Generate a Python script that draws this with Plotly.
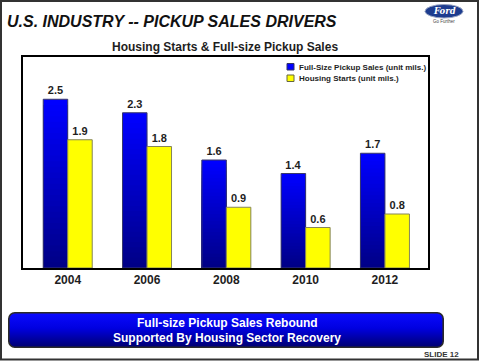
import base64
import plotly.graph_objects as go

# ---- data ----
years = ["2004", "2006", "2008", "2010", "2012"]
pickup_sales = [2.5, 2.3, 1.6, 1.4, 1.7]
housing_starts = [1.9, 1.8, 0.9, 0.6, 0.8]
name_pickup = "Full-Size Pickup Sales (unit mils.)"
name_housing = "Housing Starts (unit mils.)"

W, H = 480, 361
FONT = "Liberation Sans, Arial, sans-serif"
TXT = "#1e1e1e"


def px(x):
    return x / W


def py(y):
    return 1 - y / H


fig = go.Figure()

# blue bars with vertical gradient (bright top -> dark bottom) via overlaid bars
N = 30
top = (0, 0, 255)
bot = (0, 0, 135)
for k in range(N):
    t = k / (N - 1)
    c = tuple(round(top[i] + (bot[i] - top[i]) * t) for i in range(3))
    col = "rgb(%d,%d,%d)" % c
    fig.add_trace(go.Bar(
        x=years, y=[v * (1 - k / N) for v in pickup_sales],
        offsetgroup="a", marker=dict(color=col, line=dict(width=0)),
        showlegend=False, hoverinfo="skip"))
# outline + labels for blue bars
fig.add_trace(go.Bar(
    x=years, y=pickup_sales, offsetgroup="a", name=name_pickup,
    marker=dict(color="rgba(0,0,0,0)", line=dict(color="#3a3a6a", width=1)),
    text=pickup_sales, texttemplate="%{y:.1f}", textposition="outside",
    textfont=dict(family=FONT, size=11, color=TXT, weight="bold"),
    cliponaxis=False, showlegend=False))
# yellow bars
fig.add_trace(go.Bar(
    x=years, y=housing_starts, offsetgroup="b", name=name_housing,
    marker=dict(color="#FFFF00", line=dict(color="#85855a", width=1)),
    text=housing_starts, texttemplate="%{y:.1f}", textposition="outside",
    textfont=dict(family=FONT, size=11, color=TXT, weight="bold"),
    cliponaxis=False, showlegend=False))

# banner gradient image (decoration)
svg = (
    '<svg xmlns="http://www.w3.org/2000/svg" width="436" height="36" viewBox="0 0 436 36" '
    'preserveAspectRatio="none">'
    '<defs><linearGradient id="g" x1="0" y1="0" x2="0" y2="1">'
    '<stop offset="0" stop-color="#0a0aff"/><stop offset="0.45" stop-color="#0000e0"/>'
    '<stop offset="1" stop-color="#000070"/></linearGradient></defs>'
    '<rect x="0.8" y="0.8" width="434.4" height="34.4" rx="6" ry="6" fill="url(#g)" '
    'stroke="#2a2a2a" stroke-width="1.6"/></svg>'
)
svg_uri = "data:image/svg+xml;base64," + base64.b64encode(svg.encode()).decode()

fig.update_layout(
    width=W, height=H,
    margin=dict(l=0, r=0, t=0, b=0),
    paper_bgcolor="white", plot_bgcolor="white",
    barmode="group", bargap=0.382, bargroupgap=0,
    showlegend=False,
    font=dict(family=FONT, color=TXT),
    xaxis=dict(domain=[px(23), px(428)], range=[-0.564, 4.543],
               showline=True, mirror=True, linecolor="black", linewidth=2,
               ticks="", showgrid=False, zeroline=False,
               tickfont=dict(family=FONT, size=12, color=TXT, weight="bold")),
    yaxis=dict(domain=[py(268), py(57)], range=[0, 3.126],
               showline=True, mirror=True, linecolor="black", linewidth=2,
               showticklabels=False, ticks="", showgrid=False, zeroline=False),
    images=[dict(source=svg_uri, xref="paper", yref="paper",
                 x=px(8), y=py(312), sizex=px(436), sizey=36 / H,
                 sizing="stretch", xanchor="left", yanchor="top", layer="below")],
)

shapes = [
    # outer slide frame
    dict(type="rect", xref="paper", yref="paper", x0=px(1), x1=px(478), y0=py(1), y1=py(359.5),
         line=dict(color="#333333", width=2)),
    # legend swatches
    dict(type="rect", xref="paper", yref="paper", x0=px(287), x1=px(294), y0=py(63.5), y1=py(70),
         fillcolor="#0000ff", line=dict(color="#333366", width=1)),
    dict(type="rect", xref="paper", yref="paper", x0=px(287), x1=px(294), y0=py(75), y1=py(81.5),
         fillcolor="#ffff00", line=dict(color="#666640", width=1)),
    # Ford oval
    dict(type="circle", xref="paper", yref="paper", x0=px(425), x1=px(463), y0=py(4.5), y1=py(18),
         fillcolor="#1d3c8f", line=dict(color="#9aa6c4", width=1)),
]
fig.update_layout(shapes=shapes)

ann = [
    dict(text="<b><i>U.S. INDUSTRY -- PICKUP SALES DRIVERS</i></b>", x=px(5), y=py(21.5),
         xanchor="left", yanchor="middle", font=dict(size=16, color="#111")),
    dict(text="<b>Housing Starts & Full-size Pickup Sales</b>", x=px(225), y=py(46.5),
         xanchor="center", yanchor="middle", font=dict(size=12, color=TXT)),
    dict(text="<b>" + name_pickup + "</b>", x=px(296.5), y=py(67), xanchor="left", yanchor="middle",
         font=dict(size=8, color=TXT)),
    dict(text="<b>" + name_housing + "</b>", x=px(296.5), y=py(78.3), xanchor="left", yanchor="middle",
         font=dict(size=8, color=TXT)),
    dict(text="<b>Full-size Pickup Sales Rebound</b>", x=px(227), y=py(323.3),
         xanchor="center", yanchor="middle", font=dict(size=12, color="white")),
    dict(text="<b>Supported By Housing Sector Recovery</b>", x=px(227), y=py(337.7),
         xanchor="center", yanchor="middle", font=dict(size=12, color="white")),
    dict(text="<b>SLIDE 12</b>", x=px(461), y=py(354), xanchor="right", yanchor="middle",
         font=dict(size=8, color="#333")),
    dict(text="<b><i>Ford</i></b>", x=px(444), y=py(11.3), xanchor="center", yanchor="middle",
         font=dict(family="DejaVu Serif, serif", size=8.5, color="white")),
    dict(text="Go Further", x=px(444), y=py(21.5), xanchor="center", yanchor="middle",
         font=dict(size=4.5, color="#444")),
]
for a in ann:
    a.update(xref="paper", yref="paper", showarrow=False)
    a.setdefault("font", {})
    a["font"].setdefault("family", FONT)
fig.update_layout(annotations=ann)

fig.write_html("out.html", config={"displayModeBar": False},
               post_script="document.body.style.margin='0px';")
